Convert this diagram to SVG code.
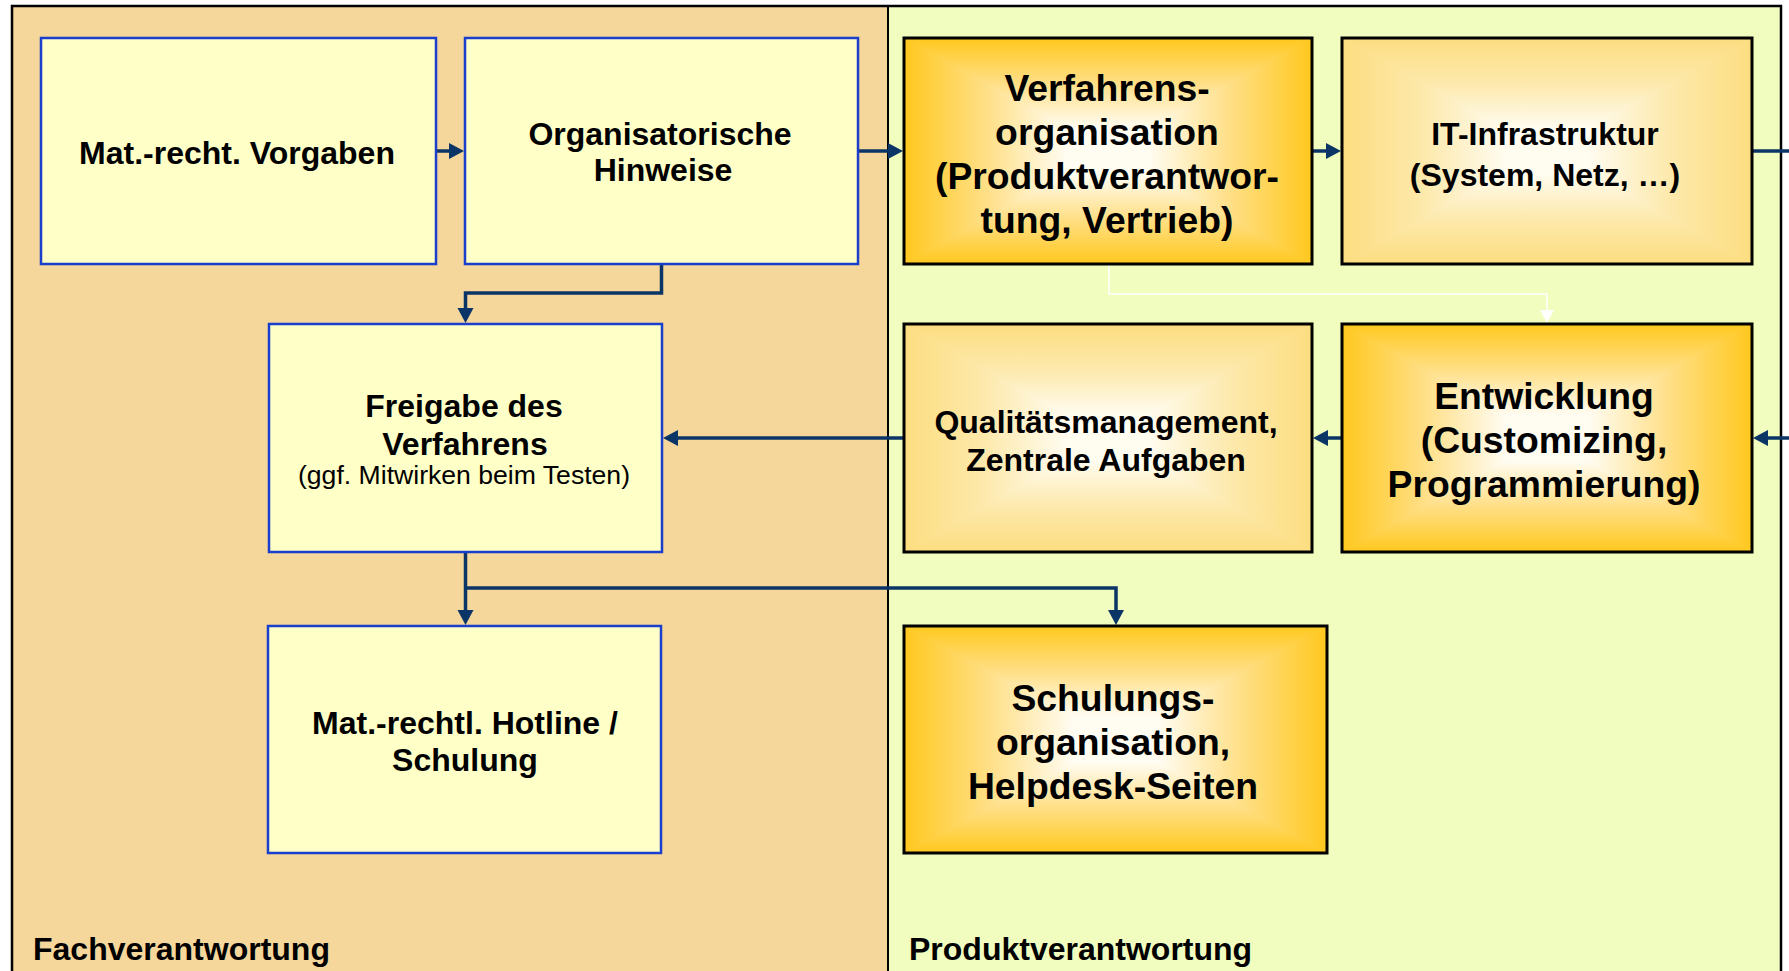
<svg xmlns="http://www.w3.org/2000/svg" width="1789" height="971" viewBox="0 0 1789 971">
<style>
.t{font-family:"Liberation Sans",Arial,sans-serif;font-weight:bold;fill:#000;text-anchor:middle;font-size:32px}
.big{font-size:37.3px}
.reg{font-weight:normal;font-size:26.6px}
.lbl{font-family:"Liberation Sans",Arial,sans-serif;font-weight:bold;fill:#000;font-size:32px}
.lbox{fill:#FFFFC8;stroke:#1A3FCC;stroke-width:2.5}
.rbox{fill:none;stroke:#000;stroke-width:3}
.con{fill:none;stroke:#0B3566;stroke-width:3.5}
.wcon{fill:none;stroke:#FFFFFF;stroke-width:1.5}
</style>
<defs>
<linearGradient id="sV" x1="0" y1="0" x2="0" y2="1">
<stop offset="0" stop-color="#FFC81E"/><stop offset="0.2" stop-color="#FFDF86"/><stop offset="0.4" stop-color="#FFFCF2"/><stop offset="0.6" stop-color="#FFFCF2"/><stop offset="0.8" stop-color="#FFDF86"/><stop offset="1" stop-color="#FFC81E"/>
</linearGradient>
<linearGradient id="sL" x1="0" y1="0" x2="1" y2="0">
<stop offset="0" stop-color="#FFC81E"/><stop offset="0.4" stop-color="#FFDF86"/><stop offset="0.8" stop-color="#FFFCF2"/><stop offset="1" stop-color="#FFFCF2"/>
</linearGradient>
<linearGradient id="sR" x1="1" y1="0" x2="0" y2="0">
<stop offset="0" stop-color="#FFC81E"/><stop offset="0.4" stop-color="#FFDF86"/><stop offset="0.8" stop-color="#FFFCF2"/><stop offset="1" stop-color="#FFFCF2"/>
</linearGradient>
<linearGradient id="lV" x1="0" y1="0" x2="0" y2="1">
<stop offset="0" stop-color="#FCDD80"/><stop offset="0.2" stop-color="#FDE9AC"/><stop offset="0.4" stop-color="#FFFCF0"/><stop offset="0.6" stop-color="#FFFCF0"/><stop offset="0.8" stop-color="#FDE9AC"/><stop offset="1" stop-color="#FCDD80"/>
</linearGradient>
<linearGradient id="lL" x1="0" y1="0" x2="1" y2="0">
<stop offset="0" stop-color="#FCDD80"/><stop offset="0.4" stop-color="#FDE9AC"/><stop offset="0.8" stop-color="#FFFCF0"/><stop offset="1" stop-color="#FFFCF0"/>
</linearGradient>
<linearGradient id="lR" x1="1" y1="0" x2="0" y2="0">
<stop offset="0" stop-color="#FCDD80"/><stop offset="0.4" stop-color="#FDE9AC"/><stop offset="0.8" stop-color="#FFFCF0"/><stop offset="1" stop-color="#FFFCF0"/>
</linearGradient>
<marker id="ah" markerUnits="userSpaceOnUse" markerWidth="16" markerHeight="16" refX="8" refY="8" orient="auto" overflow="visible">
<path d="M0,0 L15,8 L0,16 Z" fill="#0B3566"/>
</marker>
<marker id="wah" markerUnits="userSpaceOnUse" markerWidth="14" markerHeight="14" refX="7" refY="7" orient="auto" overflow="visible">
<path d="M0,0 L13,7 L0,14 Z" fill="#FFFFFF"/>
</marker>
</defs>

<g id="panels">
<rect x="12" y="6" width="876" height="980" fill="#F5D69B"/>
<rect x="888" y="6" width="893" height="980" fill="#F1FDBF"/>
<line x1="888" y1="6" x2="888" y2="971" stroke="#000" stroke-width="2"/>
<rect x="12" y="6" width="1769" height="980" fill="none" stroke="#000" stroke-width="2.5"/>
</g>

<g id="connectors">
<path class="con" d="M436,151 H457" marker-end="url(#ah)"/>
<path class="con" d="M858,151 H896" marker-end="url(#ah)"/>
<path class="con" d="M1312,151 H1334" marker-end="url(#ah)"/>
<path class="con" d="M1752,151 H1789"/>
<path class="con" d="M1789,438 H1760" marker-end="url(#ah)"/>
<path class="con" d="M1342,438 H1320" marker-end="url(#ah)"/>
<path class="con" d="M904,438 H670" marker-end="url(#ah)" stroke-width="4"/>
<path class="con" d="M661.5,264 V293 H465.5 V316" marker-end="url(#ah)"/>
<path class="con" d="M465.5,552 V618" marker-end="url(#ah)"/>
<path class="con" d="M465.5,588 H1116 V618" marker-end="url(#ah)"/>
<path class="wcon" d="M1109,264 V294 H1547 V317" marker-end="url(#wah)"/>
</g>

<g id="n-vorgaben">
<rect class="lbox" x="41" y="38" width="395" height="226"/>
<text class="t" x="237" y="164">Mat.-recht. Vorgaben</text>
</g>
<g id="n-hinweise">
<rect class="lbox" x="465" y="38" width="393" height="226"/>
<text class="t" x="660" y="145">Organisatorische</text>
<text class="t" x="663" y="181">Hinweise</text>
</g>
<g id="n-freigabe">
<rect class="lbox" x="269" y="324" width="393" height="228"/>
<text class="t" x="464" y="417">Freigabe des</text>
<text class="t" x="465" y="455">Verfahrens</text>
<text class="t reg" x="464" y="484">(ggf. Mitwirken beim Testen)</text>
</g>
<g id="n-hotline">
<rect class="lbox" x="268" y="626" width="393" height="227"/>
<text class="t" x="465" y="734">Mat.-rechtl. Hotline /</text>
<text class="t" x="465" y="771">Schulung</text>
</g>

<g id="n-verfahren">
<rect x="904" y="38" width="408" height="226" fill="url(#sV)"/>
<polygon points="904,38 1108,151 904,264" fill="url(#sL)"/>
<polygon points="1312,38 1108,151 1312,264" fill="url(#sR)"/>
<rect class="rbox" x="904" y="38" width="408" height="226"/>
<text class="t big" x="1107" y="101">Verfahrens-</text>
<text class="t big" x="1107" y="145">organisation</text>
<text class="t big" x="1107" y="189">(Produktverantwor-</text>
<text class="t big" x="1107" y="233">tung, Vertrieb)</text>
</g>
<g id="n-infra">
<rect x="1342" y="38" width="410" height="226" fill="url(#lV)"/>
<polygon points="1342,38 1547,151 1342,264" fill="url(#lL)"/>
<polygon points="1752,38 1547,151 1752,264" fill="url(#lR)"/>
<rect class="rbox" x="1342" y="38" width="410" height="226"/>
<text class="t" x="1545" y="145">IT-Infrastruktur</text>
<text class="t" x="1545" y="186">(System, Netz, …)</text>
</g>
<g id="n-qualitaet">
<rect x="904" y="324" width="408" height="228" fill="url(#lV)"/>
<polygon points="904,324 1108,438 904,552" fill="url(#lL)"/>
<polygon points="1312,324 1108,438 1312,552" fill="url(#lR)"/>
<rect class="rbox" x="904" y="324" width="408" height="228"/>
<text class="t" x="1106" y="433">Qualitätsmanagement,</text>
<text class="t" x="1106" y="471">Zentrale Aufgaben</text>
</g>
<g id="n-entwicklung">
<rect x="1342" y="324" width="410" height="228" fill="url(#sV)"/>
<polygon points="1342,324 1547,438 1342,552" fill="url(#sL)"/>
<polygon points="1752,324 1547,438 1752,552" fill="url(#sR)"/>
<rect class="rbox" x="1342" y="324" width="410" height="228"/>
<text class="t big" x="1544" y="409">Entwicklung</text>
<text class="t big" x="1544" y="453">(Customizing,</text>
<text class="t big" x="1544" y="497">Programmierung)</text>
</g>
<g id="n-schulung">
<rect x="904" y="626" width="423" height="227" fill="url(#sV)"/>
<polygon points="904,626 1115.5,739.5 904,853" fill="url(#sL)"/>
<polygon points="1327,626 1115.5,739.5 1327,853" fill="url(#sR)"/>
<rect class="rbox" x="904" y="626" width="423" height="227"/>
<text class="t big" x="1113" y="711">Schulungs-</text>
<text class="t big" x="1113" y="755">organisation,</text>
<text class="t big" x="1113" y="799">Helpdesk-Seiten</text>
</g>

<g id="labels">
<text class="lbl" x="33" y="960">Fachverantwortung</text>
<text class="lbl" x="909" y="960">Produktverantwortung</text>
</g>
</svg>
